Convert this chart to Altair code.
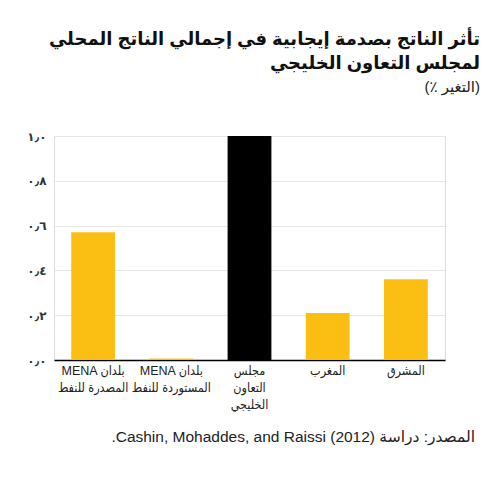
import altair as alt
import pandas as pd

categories = ["exp", "imp", "gcc", "maghreb", "mashreq"]
labels = [
    "MENA بلدان\nالمصدرة للنفط",
    "MENA بلدان\nالمستوردة للنفط",
    "مجلس\nالتعاون\nالخليجي",
    "المغرب",
    "المشرق",
]
values = [0.57, 0.007, 1.0, 0.21, 0.36]
colors = ["#FBBF14", "#FBBF14", "#000000", "#FBBF14", "#FBBF14"]
y_ticks = [0, 0.2, 0.4, 0.6, 0.8, 1.0]
y_tick_labels = ["٠٫٠", "٠٫٢", "٠٫٤", "٠٫٦", "٠٫٨", "١٫٠"]

title_lines = ["تأثر الناتج بصدمة إيجابية في إجمالي الناتج المحلي", "لمجلس التعاون الخليجي"]
subtitle = "(٪ التغير)"
source = ".Cashin, Mohaddes, and Raissi (2012) المصدر: دراسة"

FONT = "Liberation Sans, Arial, DejaVu Sans"
FONT_COND = "Liberation Sans, Arial, DejaVu Sans Condensed"

df = pd.DataFrame({"cat": categories, "label": labels, "value": values, "color": colors})

label_map = "{" + ",".join(f"'{c}': '{l}'".replace("\n", "\\n") for c, l in zip(categories, labels)) + "}"
ylab_map = "{" + ",".join(f"'{v:.1f}': '{l}'" for v, l in zip(y_ticks, y_tick_labels)) + "}"

bars = alt.Chart(df).mark_bar().encode(
    x=alt.X(
        "cat:N",
        sort=categories,
        scale=alt.Scale(paddingInner=0.44, paddingOuter=0.22),
        axis=alt.Axis(
            title=None,
            labelAngle=0,
            labelExpr=f"split({label_map}[datum.value], '\\n')",
            labelFont=FONT_COND,
            labelFontSize=12.5,
            labelColor="#222222",
            labelLineHeight=17,
            labelPadding=4,
            ticks=False,
            domainColor="#000000",
            domainWidth=1.5,
            grid=False,
        ),
    ),
    y=alt.Y(
        "value:Q",
        scale=alt.Scale(domain=[0, 1], nice=False),
        axis=alt.Axis(
            title=None,
            values=y_ticks,
            labelExpr=f"{ylab_map}[format(datum.value, '.1f')]",
            labelFont=FONT,
            labelFontSize=12,
            labelFontWeight="bold",
            labelColor="#333333",
            labelPadding=8,
            ticks=False,
            domain=False,
            grid=True,
            gridColor="#e6e6e6",
            gridWidth=1,
        ),
    ),
    color=alt.Color("color:N", scale=None),
)

src = alt.Chart(pd.DataFrame({"t": [source]})).mark_text(
    align="right", baseline="middle", font=FONT, fontSize=15.5, color="#222222"
).encode(text="t:N", x=alt.value(421), y=alt.value(301))

chart = alt.layer(bars, src).properties(
    width=391,
    height=224,
    padding={"left": 46, "top": 128, "right": 43, "bottom": 118},
    autosize=alt.AutoSizeParams(type="none"),
    title=alt.TitleParams(
        text=title_lines,
        subtitle=subtitle,
        anchor="end",
        frame="group",
        dx=35,
        font=FONT,
        fontSize=18,
        fontWeight="bold",
        color="#111111",
        lineHeight=24,
        subtitleFont=FONT,
        subtitleFontSize=15,
        subtitleColor="#222222",
        subtitlePadding=7,
        offset=35,
    ),
).configure_view(stroke=None).configure(background="white")

chart.save("out.html", embed_options={"renderer": "svg", "actions": False})
